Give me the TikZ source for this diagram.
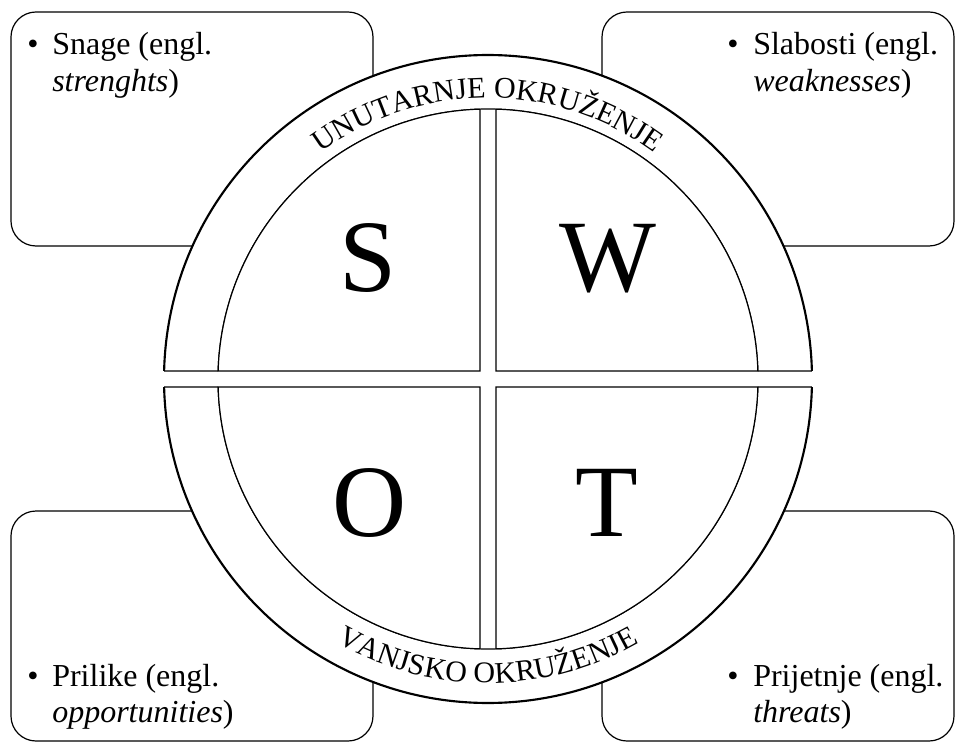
\documentclass[tikz,border=0pt]{standalone}
\usepackage{fontspec}
\setmainfont{Liberation Serif}
\usetikzlibrary{decorations.text}
\begin{document}
\begin{tikzpicture}[x=0.75pt,y=0.75pt,
  card/.style={draw=black, line width=0.9pt, rounded corners=18.75pt},
  bodytext/.style={inner sep=0pt, anchor=base west, font=\fontsize{24}{29}\selectfont},
  bulletmark/.style={inner sep=0pt, anchor=base, font=\fontsize{24}{29}\selectfont},
  bigletter/.style={inner sep=0pt, anchor=base, font=\fontsize{77}{80}\selectfont},
  outerline/.style={line width=1.6pt},
  innerline/.style={line width=0.9pt},
  endline/.style={line width=1.1pt},
]
\useasboundingbox (-488,-363) rectangle (467,379);

% corner boxes
\draw[card] (-477,367) rectangle (-115,133);
\draw[card] (114,367) rectangle (466,133);
\draw[card] (-477,-132) rectangle (-115,-362);
\draw[card] (114,-132) rectangle (466,-362);

% box texts
\node[bulletmark] (b1) at (-455,324) {•};
\node[bodytext] (t1a) at (-436,324) {Snage (engl.};
\node[bodytext] (t1b) at (-436,287) {\textit{strenghts})};
\node[bulletmark] (b2) at (245,324) {•};
\node[bodytext] (t2a) at (265,324) {Slabosti (engl.};
\node[bodytext] (t2b) at (265,287) {\textit{weaknesses})};
\node[bulletmark] (b3) at (-455,-307) {•};
\node[bodytext] (t3a) at (-436,-307) {Prilike (engl.};
\node[bodytext] (t3b) at (-436,-343) {\textit{opportunities})};
\node[bulletmark] (b4) at (245,-307) {•};
\node[bodytext] (t4a) at (265,-307) {Prijetnje (engl.};
\node[bodytext] (t4b) at (265,-343) {\textit{threats})};

% upper ring
\fill[white] (178.585:324) arc[start angle=178.585, end angle=1.415, radius=324]
  -- (1.698:270) arc[start angle=1.698, end angle=178.302, radius=270] -- cycle;
\draw[outerline] (178.585:324) arc[start angle=178.585, end angle=1.415, radius=324];
\draw[innerline] (1.698:270) arc[start angle=1.698, end angle=178.302, radius=270];
\draw[endline] (178.585:324) -- (178.302:270);
\draw[endline] (1.415:324) -- (1.698:270);

% lower ring
\fill[white] (181.415:324) arc[start angle=181.415, end angle=358.585, radius=324]
  -- (358.302:270) arc[start angle=358.302, end angle=181.698, radius=270] -- cycle;
\draw[outerline] (181.415:324) arc[start angle=181.415, end angle=358.585, radius=324];
\draw[innerline] (358.302:270) arc[start angle=358.302, end angle=181.698, radius=270];
\draw[endline] (181.415:324) -- (181.698:270);
\draw[endline] (358.585:324) -- (358.302:270);

% inner quarters
\filldraw[fill=white, innerline] (-8,8) -- (91.698:270) arc[start angle=91.698, end angle=178.302, radius=270] -- cycle;
\filldraw[fill=white, innerline] (8,8) -- (88.302:270) arc[start angle=88.302, end angle=1.698, radius=270] -- cycle;
\filldraw[fill=white, innerline] (-8,-8) -- (268.302:270) arc[start angle=268.302, end angle=181.698, radius=270] -- cycle;
\filldraw[fill=white, innerline] (8,-8) -- (271.698:270) arc[start angle=271.698, end angle=358.302, radius=270] -- cycle;

% big letters
\node[bigletter] (S) at (-120,87) {S};
\node[bigletter] (W) at (120,87) {W};
\node[bigletter] (O) at (-118,-157) {O};
\node[bigletter] (T) at (119,-157) {T};

% curved labels
\path[decorate, decoration={text along path, text align=center,
  text={|\fontsize{22.5}{26}\selectfont|UNUTARNJE OKRUŽENJE}}]
  (150:281) arc[start angle=150, end angle=30, radius=281];
\path[decorate, decoration={text along path, text align=center,
  text={|\fontsize{22.5}{26}\selectfont|VANJSKO OKRUŽENJE}}]
  (205:304) arc[start angle=205, end angle=335, radius=304];
\end{tikzpicture}
\end{document}
